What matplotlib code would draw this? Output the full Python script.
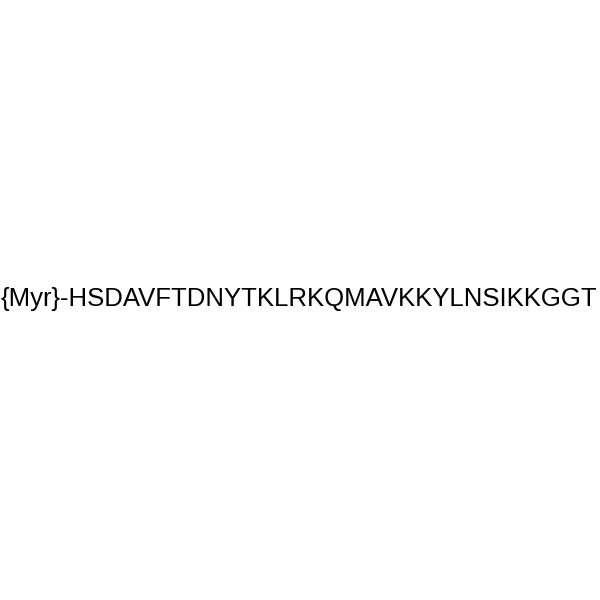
import matplotlib
matplotlib.use("Agg")
import matplotlib.pyplot as plt

label = "{Myr}-HSDAVFTDNYTKLRKQMAVKKYLNSIKKGGT"

fig = plt.figure(figsize=(6, 6), dpi=100)
fig.patch.set_facecolor("white")
fig.text(0.4975, 0.502, label, ha="center", va="center",
         fontsize=18.5, family="Liberation Sans", color="black")
fig.savefig("out.png", dpi=100, facecolor="white")
